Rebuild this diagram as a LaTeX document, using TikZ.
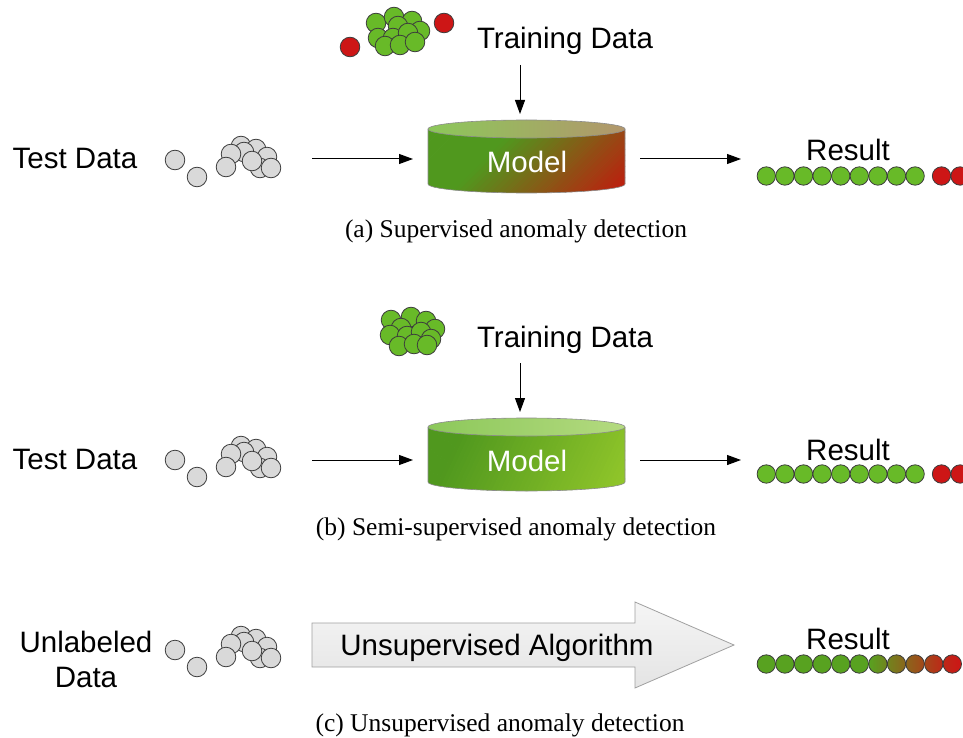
\documentclass[tikz,border=0pt]{standalone}
\usepackage{fontspec}
\setmainfont{Liberation Sans}
\newfontfamily\capfont{Liberation Serif}
\usetikzlibrary{arrows.meta,calc}
\definecolor{ballgreen}{RGB}{104,186,40}
\definecolor{ballgreenc}{RGB}{88,162,32}
\definecolor{ballred}{RGB}{205,22,22}
\definecolor{ballgray}{RGB}{217,217,217}
\definecolor{ballbord}{RGB}{60,60,60}
\definecolor{cyldark}{RGB}{80,152,30}
\definecolor{cylred}{RGB}{205,12,12}
\definecolor{cyllight}{RGB}{145,198,42}
\definecolor{toplg}{RGB}{140,200,90}
\definecolor{topred}{RGB}{178,150,108}
\definecolor{toplg2}{RGB}{180,218,128}
\definecolor{cylbord}{RGB}{140,140,140}
\definecolor{arrtop}{RGB}{245,245,245}
\definecolor{arrbot}{RGB}{228,228,228}
\definecolor{arrbord}{RGB}{160,160,160}
\tikzset{
  ball/.style={circle, draw=ballbord, line width=0.8pt, minimum size=18.4pt, inner sep=0pt},
  cball/.style={circle, draw=ballbord, line width=0.8pt, minimum size=19.6pt, inner sep=0pt},
  gball/.style={ball, fill=ballgreen},
  rball/.style={ball, fill=ballred},
  gcball/.style={cball, fill=ballgreen},
  rcball/.style={cball, fill=ballred},
  yball/.style={cball, fill=ballgray},
  lbl/.style={font=\fontsize{29.5}{34}\selectfont, anchor=base, inner sep=0pt},
  mlbl/.style={lbl, text=white},
  capstyle/.style={font=\capfont\fontsize{25.5}{30}\selectfont, anchor=base, inner sep=0pt},
  arr/.style={-{Triangle[length=14pt,width=10pt]}, line width=1pt, black},
  cylline/.style={draw=cylbord, line width=0.6pt}
}
\begin{document}
\begin{tikzpicture}[x=1pt,y=-1pt]
\useasboundingbox (0,0) rectangle (963,738);

% ================= Row (a) =================
\foreach \p [count=\i] in {(376,23),(394,17),(412,21),(420,31),(398,26),(378,38),(393,38),(408,33),(385,46),(400,45),(415,42)}
  \node[gcball] (ta\i) at \p {};
\node[rcball] (tar1) at (350,47) {};
\node[rcball] (tar2) at (444,23) {};
\node[lbl] (traina) at (565,49) {Training Data};
\coordinate (dna1) at (520,65);
\coordinate (dna2) at (520,114);
\draw[arr] (dna1) -- (dna2);

% model cylinder (a): diagonal green -> red strips
\begin{scope}
\clip (428,129) -- (428,184) arc[start angle=180, end angle=0, x radius=98.5, y radius=9] -- (625,129) -- cycle;
\foreach \k in {0,...,54} {
  \pgfmathsetmacro{\sa}{-110+4*\k}
  \pgfmathsetmacro{\sb}{\sa+4.6}
  \pgfmathsetmacro{\pc}{max(0,min(100,(\sa+2+30)/135*100))}
  \fill[cylred!\pc!cyldark]
    ($(526.5,160)+(\sa*0.707,\sa*0.707)+(-150*0.707,150*0.707)$) --
    ($(526.5,160)+(\sb*0.707,\sb*0.707)+(-150*0.707,150*0.707)$) --
    ($(526.5,160)+(\sb*0.707,\sb*0.707)+(150*0.707,-150*0.707)$) --
    ($(526.5,160)+(\sa*0.707,\sa*0.707)+(150*0.707,-150*0.707)$) -- cycle;
}
\end{scope}
\draw[cylline] (428,129) -- (428,184) arc[start angle=180, end angle=0, x radius=98.5, y radius=9] -- (625,129);
\shade[left color=toplg, right color=topred, cylline] (526.5,129) ellipse[x radius=98.5, y radius=9];
\node[mlbl] (modela) at (527,173) {Model};

\node[lbl] (testa) at (75,169) {Test Data};
\foreach \p [count=\i] in {(175,160),(197,177),(241,146),(256,149),(267,157),(244,152),(231,154),(260,168),(252,161),(226,167),(271,168)}
  \node[yball] (ga\i) at \p {};
\coordinate (aa1) at (312,159);
\coordinate (aa2) at (413,159);
\draw[arr] (aa1) -- (aa2);
\coordinate (ab1) at (640,159);
\coordinate (ab2) at (741,159);
\draw[arr] (ab1) -- (ab2);

\node[lbl] (resa) at (848,161) {Result};
\foreach \i in {0,...,8}
  \node[gball] (ra\i) at ({766.3+18.6*\i},176) {};
\node[rball] (rar1) at (941.5,176) {};
\node[rball] (rar2) at (960.1,176) {};
\node[capstyle] (capa) at (516,237) {(a) Supervised anomaly detection};

% ================= Row (b) =================
\foreach \p [count=\i] in {(391,320),(411,317),(426,321),(435,329),(401,328),(390,335),(407,336),(421,332),(431,339),(399,346),(414,344),(427,345)}
  \node[gcball] (tb\i) at \p {};
\node[lbl] (trainb) at (565,347) {Training Data};
\coordinate (dnb1) at (520,363);
\coordinate (dnb2) at (520,412);
\draw[arr] (dnb1) -- (dnb2);

\begin{scope}
\clip (428,427) -- (428,482) arc[start angle=180, end angle=0, x radius=98.5, y radius=9] -- (625,427) -- cycle;
\foreach \k in {0,...,54} {
  \pgfmathsetmacro{\sa}{-110+4*\k}
  \pgfmathsetmacro{\sb}{\sa+4.6}
  \pgfmathsetmacro{\pc}{max(0,min(100,(\sa+2+70)/170*100))}
  \fill[cyllight!\pc!cyldark]
    ($(526.5,458)+(\sa*0.906,\sa*0.423)+(-150*0.423,150*0.906)$) --
    ($(526.5,458)+(\sb*0.906,\sb*0.423)+(-150*0.423,150*0.906)$) --
    ($(526.5,458)+(\sb*0.906,\sb*0.423)+(150*0.423,-150*0.906)$) --
    ($(526.5,458)+(\sa*0.906,\sa*0.423)+(150*0.423,-150*0.906)$) -- cycle;
}
\end{scope}
\draw[cylline] (428,427) -- (428,482) arc[start angle=180, end angle=0, x radius=98.5, y radius=9] -- (625,427);
\shade[left color=toplg, right color=toplg2, cylline] (526.5,427) ellipse[x radius=98.5, y radius=9];
\node[mlbl] (modelb) at (527,471) {Model};

\node[lbl] (testb) at (75,469) {Test Data};
\begin{scope}[shift={(0,300)}]
\foreach \p [count=\i] in {(175,160),(197,177),(241,146),(256,149),(267,157),(244,152),(231,154),(260,168),(252,161),(226,167),(271,168)}
  \node[yball] (gb\i) at \p {};
\end{scope}
\coordinate (ba1) at (312,460);
\coordinate (ba2) at (413,460);
\draw[arr] (ba1) -- (ba2);
\coordinate (bb1) at (640,460);
\coordinate (bb2) at (741,460);
\draw[arr] (bb1) -- (bb2);

\node[lbl] (resb) at (848,460) {Result};
\foreach \i in {0,...,8}
  \node[gball] (rb\i) at ({766.3+18.6*\i},474) {};
\node[rball] (rbr1) at (941.5,474) {};
\node[rball] (rbr2) at (960.1,474) {};
\node[capstyle] (capb) at (516,535) {(b) Semi-supervised anomaly detection};

% ================= Row (c) =================
\node[lbl] (unl1) at (86,652) {Unlabeled};
\node[lbl] (unl2) at (86,687) {Data};
\begin{scope}[shift={(0,490)}]
\foreach \p [count=\i] in {(175,160),(197,177),(241,146),(256,149),(267,157),(244,152),(231,154),(260,168),(252,161),(226,167),(271,168)}
  \node[yball] (gc\i) at \p {};
\end{scope}

\shade[top color=arrtop, bottom color=arrbot, draw=arrbord, line width=0.8pt]
  (312,623) -- (635,623) -- (635,602) -- (734,645) -- (635,688) -- (635,667) -- (312,667) -- cycle;
\node[lbl] (algo) at (497,655) {Unsupervised Algorithm};

\node[lbl] (resc) at (848,649) {Result};
\foreach \i in {0,...,10} {
  \pgfmathsetmacro{\tl}{100-max(0,min(100,(\i-6)/4.6*100))}
  \pgfmathsetmacro{\tr}{100-max(0,min(100,(\i-5)/4.6*100))}
  \node[ball, left color=ballgreenc!\tl!ballred, right color=ballgreenc!\tr!ballred] (rc\i) at ({766.3+18.6*\i},664) {};
}
\node[capstyle] (capc) at (500,731) {(c) Unsupervised anomaly detection};
\end{tikzpicture}
\end{document}
